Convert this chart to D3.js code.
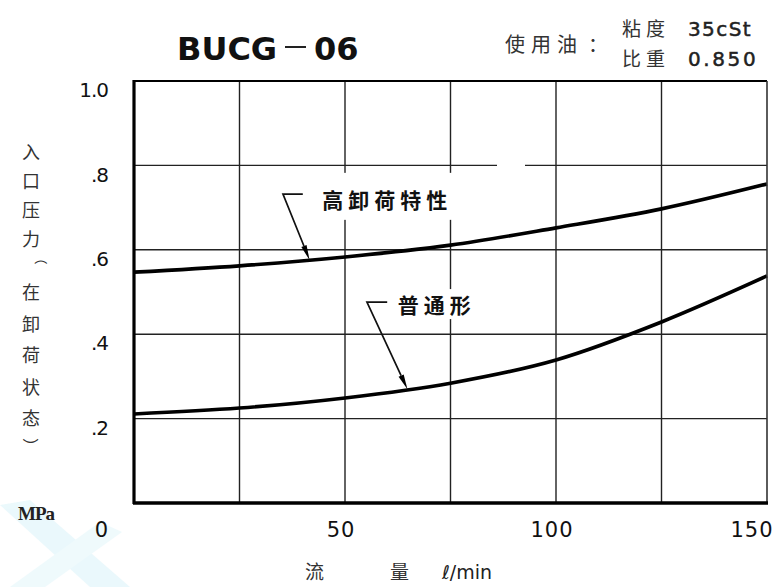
<!DOCTYPE html>
<html>
<head>
<meta charset="utf-8">
<script src="https://cdn.jsdelivr.net/npm/d3@7"></script>
<style>
  html, body { margin: 0; padding: 0; background: #fff; }
  svg { display: block; }
</style>
</head>
<body>
<svg id="chart" width="783" height="587"></svg>
<script>
// Flow rate (l/min) and inlet pressure in the unloaded state (MPa)
const flow = [0, 25, 50, 75, 100, 125, 150];
const highUnload = [0.547, 0.562, 0.583, 0.611, 0.652, 0.697, 0.756];
const standard = [0.211, 0.225, 0.249, 0.284, 0.339, 0.429, 0.538];

const seriesNames = ["高卸荷特性", "普通形"];
const xTicks = [0, 50, 100, 150];
const xGrid = [25, 50, 75, 100, 125];
const yTicks = [1.0, 0.8, 0.6, 0.4, 0.2];
const yTickLabels = ["1.0", ".8", ".6", ".4", ".2"];
const yGrid = [0.2, 0.4, 0.6, 0.8];

// Leader positions for the curve labels, in data units (flow, pressure)
const leaderHigh = { start: [35.3, 0.732], bend: [40.0, 0.732], tipFlow: 41.6, text: [44.6, 0.716] };
const leaderStd = { start: [55.2, 0.476], bend: [60.0, 0.476], tipFlow: 64.8, text: [62.5, 0.469] };

const title = "BUCG";
const titleSuffix = "06";
const oilLabel = "使用油";
const oilProps = [["粘度", "35cSt"], ["比重", "0.850"]];
const yTitleTop = ["入", "口", "压", "力"];
const yTitleBottom = ["在", "卸", "荷", "状", "态"];
const xTitle = ["流", "量"];
const xUnit = "ℓ/min";
const yUnit = "MPa";

const svg = d3.select("#chart");
const x = d3.scaleLinear().domain([0, 150]).range([134, 767]);
const y = d3.scaleLinear().domain([0, 1]).range([503, 81]);

const CJK = "'Noto Sans CJK SC', 'Noto Sans CJK JP', sans-serif";
const SANS = "'DejaVu Sans', 'Liberation Sans', sans-serif";

// faint cyan stamp in the lower-left corner
const stamp = svg.append("g").attr("opacity", 0.18);
stamp.append("path").attr("d", "M0,505 L30,500 L130,587 L90,587 Z").attr("fill", "#8fdcef");
stamp.append("path").attr("d", "M100,522 L122,532 L45,587 L10,587 Z").attr("fill", "#a8e6f4");

// grid
const grid = svg.append("g").attr("stroke", "#222").attr("stroke-width", 1.4);
grid.selectAll("line.v").data(xGrid).join("line")
  .attr("x1", d => x(d)).attr("x2", d => x(d))
  .attr("y1", y(1)).attr("y2", y(0));
grid.selectAll("line.h").data(yGrid).join("line")
  .attr("x1", x(0)).attr("x2", x(150))
  .attr("y1", d => y(d)).attr("y2", d => y(d));
// break in the 0.8 grid line
svg.append("rect").attr("x", 497).attr("y", y(0.8) - 3).attr("width", 28).attr("height", 6).attr("fill", "#fff");

// white boxes behind the curve labels
svg.append("rect").attr("x", x(leaderHigh.text[0]) - 5).attr("y", y(leaderHigh.text[1]) - 28)
  .attr("width", 142).attr("height", 47).attr("fill", "#fff");
svg.append("rect").attr("x", x(leaderStd.text[0]) - 5).attr("y", y(leaderStd.text[1]) - 16)
  .attr("width", 90).attr("height", 30).attr("fill", "#fff");

// curves
const line = d3.line().x(d => x(d[0])).y(d => y(d[1])).curve(d3.curveMonotoneX);
[highUnload, standard].forEach(s => {
  svg.append("path").datum(flow.map((f, i) => [f, s[i]]))
    .attr("d", line).attr("fill", "none").attr("stroke", "#000")
    .attr("stroke-width", 3.6).attr("stroke-linejoin", "round");
});

// frame
const frame = svg.append("g").attr("stroke", "#000").attr("fill", "none");
frame.append("line").attr("x1", x(0)).attr("x2", x(150)).attr("y1", y(1)).attr("y2", y(1)).attr("stroke-width", 2.2);
frame.append("line").attr("x1", x(150)).attr("x2", x(150)).attr("y1", y(1)).attr("y2", y(0)).attr("stroke-width", 1.6).attr("stroke", "#333");
frame.append("line").attr("x1", x(0)).attr("x2", x(0)).attr("y1", y(1) - 1).attr("y2", y(0) + 1).attr("stroke-width", 3.2);
frame.append("line").attr("x1", x(0) - 1).attr("x2", x(150) + 1).attr("y1", y(0)).attr("y2", y(0)).attr("stroke-width", 3.6);

// leaders with arrowheads
function leader(l, series, label) {
  const interp = d3.scaleLinear().domain(flow).range(series);
  const p0 = [x(l.start[0]), y(l.start[1])];
  const pb = [x(l.bend[0]), y(l.bend[1])];
  const tip = [x(l.tipFlow), y(interp(l.tipFlow))];
  const dx = tip[0] - p0[0], dy = tip[1] - p0[1];
  const len = Math.hypot(dx, dy), ux = dx / len, uy = dy / len;
  const al = 15, aw = 2.8;
  const base = [tip[0] - ux * al, tip[1] - uy * al];
  svg.append("path")
    .attr("d", `M${pb[0]},${pb[1]} L${p0[0]},${p0[1]} L${base[0]},${base[1]}`)
    .attr("fill", "none").attr("stroke", "#111").attr("stroke-width", 1.7);
  svg.append("path")
    .attr("d", `M${tip[0]},${tip[1]} L${base[0] - uy * aw},${base[1] + ux * aw} L${base[0] + uy * aw},${base[1] - ux * aw} Z`)
    .attr("fill", "#000");
  svg.append("text").attr("x", x(l.text[0])).attr("y", y(l.text[1]))
    .attr("dy", "0.36em").attr("font-family", CJK).attr("font-weight", 700)
    .attr("font-size", 21).attr("letter-spacing", 5).attr("fill", "#111").text(label);
}
leader(leaderHigh, highUnload, seriesNames[0]);
leader(leaderStd, standard, seriesNames[1]);

// tick labels
svg.selectAll("text.yt").data(yTicks).join("text")
  .attr("x", 108).attr("y", d => y(d) + 9).attr("dy", "0.36em")
  .attr("text-anchor", "end").attr("font-family", SANS).attr("font-size", 20)
  .attr("letter-spacing", -1).attr("fill", "#111")
  .text((d, i) => yTickLabels[i]);

svg.selectAll("text.xt").data(xTicks).join("text")
  .attr("x", d => d === 0 ? x(d) - 32 : d === 150 ? x(d) - 15 : x(d) - 4)
  .attr("y", 529).attr("dy", "0.36em").attr("text-anchor", "middle")
  .attr("font-family", SANS).attr("font-size", 21).attr("letter-spacing", 1)
  .attr("fill", "#111").text(d => d);

// title
const tg = svg.append("g").attr("font-family", SANS).attr("font-weight", 700).attr("font-size", 32).attr("fill", "#111");
tg.append("text").attr("x", 177).attr("y", 60).text(title);
tg.append("text").attr("x", 314).attr("y", 60).text(titleSuffix);
svg.append("line").attr("x1", 285).attr("x2", 306).attr("y1", 47).attr("y2", 47).attr("stroke", "#222").attr("stroke-width", 2);

// oil conditions
svg.append("text").attr("x", 505).attr("y", 45).attr("dy", "0.36em")
  .attr("font-family", CJK).attr("font-size", 20).attr("letter-spacing", 6).attr("fill", "#333").text(oilLabel);
svg.append("text").attr("x", 598).attr("y", 45).attr("dy", "0.36em")
  .attr("text-anchor", "middle").attr("font-family", CJK).attr("font-size", 20).attr("fill", "#333").text("：");
oilProps.forEach((p, i) => {
  const yy = 29 + i * 30;
  svg.append("text").attr("x", 622).attr("y", yy).attr("dy", "0.36em")
    .attr("font-family", CJK).attr("font-size", 19).attr("letter-spacing", 5).attr("fill", "#333").text(p[0]);
  svg.append("text").attr("x", 688).attr("y", yy).attr("dy", "0.36em")
    .attr("font-family", SANS).attr("font-size", 20)
    .attr("stroke", "#222").attr("stroke-width", 0.5)
    .attr("letter-spacing", i === 0 ? 1.4 : 2.6).attr("fill", "#222").text(p[1]);
});

// vertical y-axis title
const yt = svg.append("g").attr("font-family", CJK).attr("font-size", 18).attr("fill", "#333").attr("text-anchor", "middle");
yTitleTop.forEach((c, i) => yt.append("text").attr("x", 31).attr("y", 153 + i * 29).attr("dy", "0.36em").text(c));
yt.append("text").attr("transform", "translate(41,258) rotate(90)").attr("dy", "0.36em").attr("font-size", 13).text("（");
yTitleBottom.forEach((c, i) => yt.append("text").attr("x", 31).attr("y", 293 + i * 31.5).attr("dy", "0.36em").text(c));
yt.append("text").attr("transform", "translate(31,446) rotate(90)").attr("dy", "0.36em").attr("font-size", 16).text("）");

// units
svg.append("text").attr("x", 18).attr("y", 513).attr("dy", "0.36em")
  .attr("font-family", "'Liberation Serif', serif").attr("font-weight", 700).attr("font-size", 19)
  .attr("letter-spacing", -1).attr("fill", "#222").text(yUnit);

// x-axis title
const xtg = svg.append("g").attr("font-family", CJK).attr("font-size", 19).attr("fill", "#333");
xtg.append("text").attr("x", 305).attr("y", 572).attr("dy", "0.36em").text(xTitle[0]);
xtg.append("text").attr("x", 390).attr("y", 572).attr("dy", "0.36em").text(xTitle[1]);
svg.append("text").attr("x", 442).attr("y", 572).attr("dy", "0.36em")
  .attr("font-family", SANS).attr("font-size", 19).attr("fill", "#222").text(xUnit);
</script>
</body>
</html>
